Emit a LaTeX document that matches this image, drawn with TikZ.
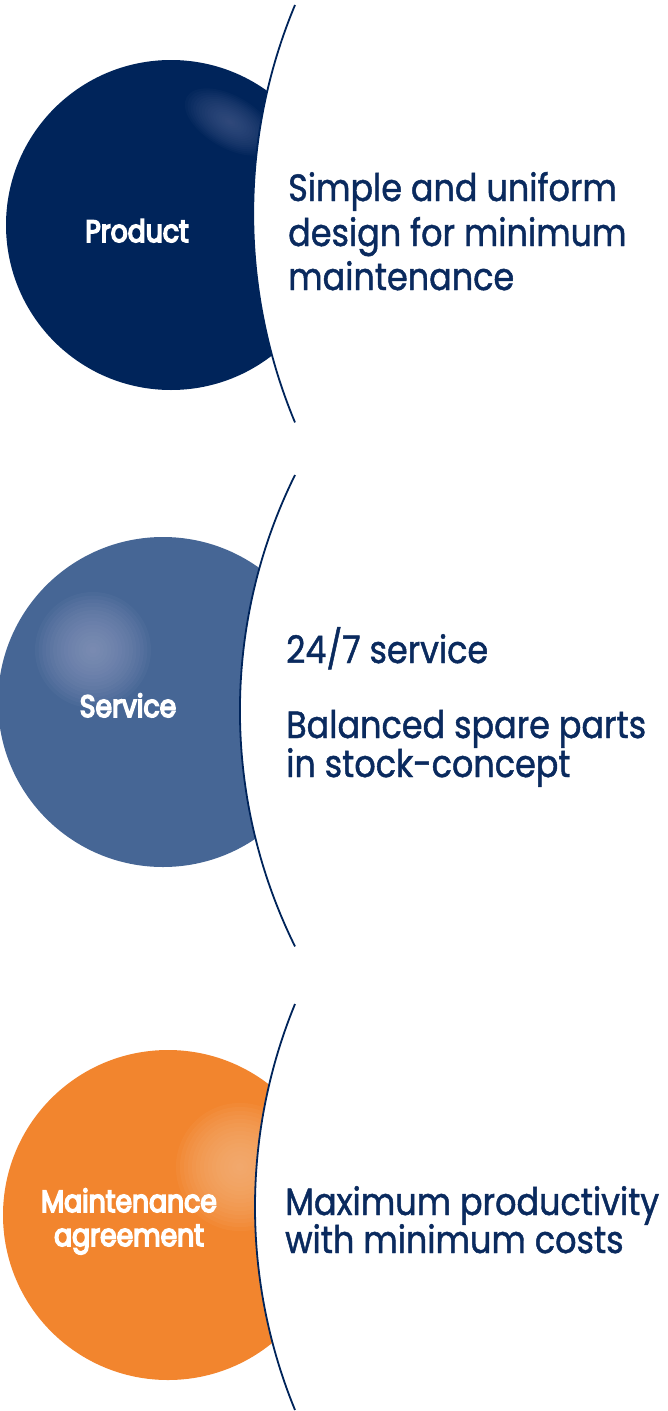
\documentclass[tikz,border=0pt]{standalone}
\usepackage{fontspec}
\setmainfont{Poppins}[FakeStretch=0.88, FakeBold=1.2]
\newfontfamily\labelfont{Poppins}[FakeStretch=0.86, FakeBold=5]
\definecolor{navy}{HTML}{00245A}
\definecolor{navytext}{HTML}{0A2A5E}
\definecolor{navyhi}{HTML}{4A5F90}
\definecolor{steel}{HTML}{466695}
\definecolor{steelhi}{HTML}{97A2C6}
\definecolor{orng}{HTML}{F2852E}
\definecolor{ornghi}{HTML}{FAB883}
\tikzset{
  arcline/.style={draw=navy, line width=1.8pt},
  bodytext/.style={anchor=base west, inner sep=0pt, text=navytext, font=\fontsize{38}{44}\selectfont},
  balllabel/.style={anchor=base, inner sep=0pt, text=white, font=\labelfont\fontsize{31}{34}\selectfont},
}
\begin{document}
\begin{tikzpicture}[x=1pt,y=-1pt]
\useasboundingbox (0,0) rectangle (668,1411);
% ---------- Product
\begin{scope}
  \clip (295,5) arc[start angle=202.65,end angle=157.35,radius=542] -- (-20,423) -- (-20,5) -- cycle;
  \fill[navy] (171,225) circle[radius=165];
  \begin{scope}
    \clip (171,225) circle[radius=165];
    \foreach \k in {1,...,16}
      \fill[navyhi, opacity=0.07, rotate around={-30:(230,122)}] (230,122) ellipse[x radius={50*\k/16}, y radius={26*\k/16}];
  \end{scope}
\end{scope}
\draw[arcline] (295,5) arc[start angle=202.65,end angle=157.35,radius=542];
\node[balllabel] (product) at (137,242) {Product};
\node[bodytext] (p1) at (288,201) {Simple and uniform};
\node[bodytext] (p2) at (288,246) {design for minimum};
\node[bodytext] (p3) at (288,290) {maintenance};
% ---------- Service
\begin{scope}
  \clip (295,475) arc[start angle=206.3,end angle=153.7,radius=532] -- (-20,946) -- (-20,475) -- cycle;
  \fill[steel] (163,702) circle[radius=165];
  \begin{scope}
    \clip (163,702) circle[radius=165];
    \foreach \k in {1,...,16}
      \fill[steelhi, opacity=0.07] (93,650) circle[radius={58*\k/16}];
  \end{scope}
\end{scope}
\draw[arcline] (295,475) arc[start angle=206.3,end angle=153.7,radius=532];
\node[balllabel] (service) at (128,717) {Service};
\node[bodytext] (s1) at (286,663) {24/7 service};
\node[bodytext] (s2) at (286,738) {Balanced spare parts};
\node[bodytext] (s3) at (286,777) {in stock-concept};
% ---------- Maintenance agreement
\begin{scope}
  \clip (295,1004) arc[start angle=202.3,end angle=157.7,radius=535] -- (-20,1412) -- (-20,1004) -- cycle;
  \fill[orng] (168,1215) circle[radius=165];
  \begin{scope}
    \clip (168,1215) circle[radius=165];
    \foreach \k in {1,...,16}
      \fill[ornghi, opacity=0.09] (240,1167) circle[radius={64*\k/16}];
  \end{scope}
\end{scope}
\draw[arcline] (295,1004) arc[start angle=202.3,end angle=157.7,radius=535];
\node[balllabel] (maint1) at (129,1212) {Maintenance};
\node[balllabel] (maint2) at (129,1246) {agreement};
\node[bodytext] (m1) at (285,1215) {Maximum productivity};
\node[bodytext] (m2) at (285,1253) {with minimum costs};
\end{tikzpicture}
\end{document}
